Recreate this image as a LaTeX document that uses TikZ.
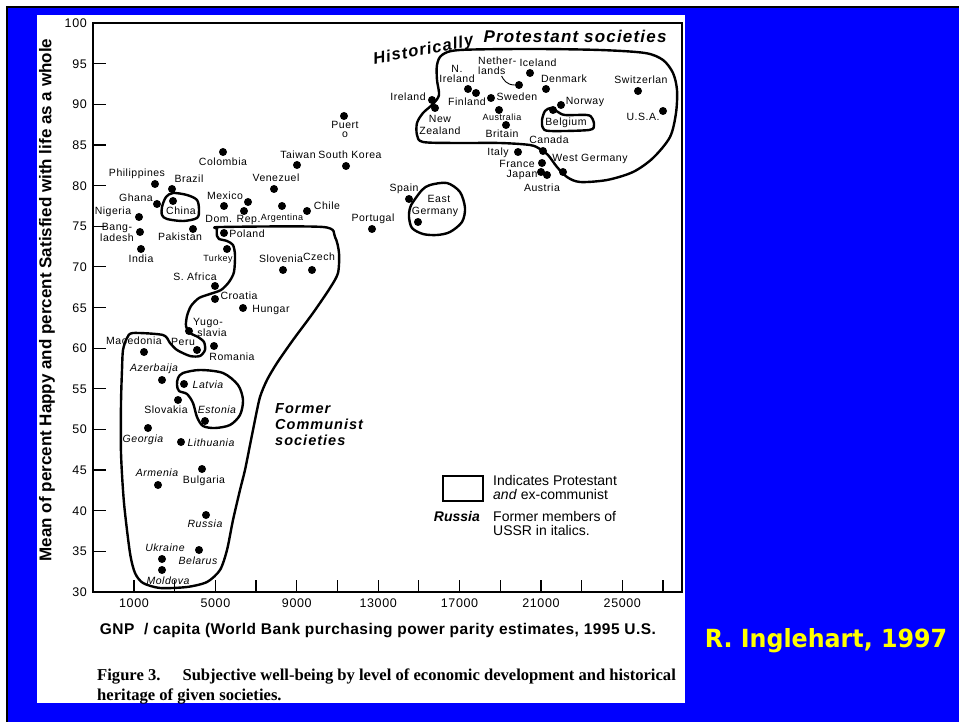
\documentclass[tikz,border=0pt]{standalone}
\usepackage{fontspec}
\usepackage{graphicx}
\setmainfont{Liberation Sans}
\newfontfamily\lblfont{Liberation Sans}[LetterSpace=5]
\newfontfamily\wbfont{Liberation Sans}[LetterSpace=7]
\newfontfamily\xtfont{Liberation Sans}[LetterSpace=3]
\newfontfamily\capfont{Liberation Serif}
\newfontfamily\creditfont{DejaVu Sans}
\definecolor{slideblue}{RGB}{0,0,255}
\definecolor{credityellow}{RGB}{255,255,0}
\begin{document}
\begin{tikzpicture}[x=1pt,y=-1pt,
  dot/.style={circle,fill=black,inner sep=0pt,minimum size=8pt},
  lbl/.style={inner sep=0pt,text height=7.6pt,text depth=0pt,font=\lblfont\fontsize{10.5}{10.5}\selectfont},
  ilbl/.style={inner sep=0pt,text height=7.6pt,text depth=0pt,font=\lblfont\itshape\fontsize{10.5}{10.5}\selectfont},
  slbl/.style={inner sep=0pt,text height=6.5pt,text depth=0pt,font=\lblfont\fontsize{9}{9}\selectfont},
  curvy/.style={draw=black,line width=2.4pt,line join=round},
  axtick/.style={line width=1.2pt},
  ticklbl/.style={inner sep=0pt,text height=9pt,text depth=0pt,font=\lblfont\fontsize{12.5}{12.5}\selectfont},
  leglbl/.style={inner sep=0pt,anchor=west,text height=10pt,text depth=0pt,font=\fontsize{14}{14}\selectfont},
  bigbi/.style={inner sep=0pt,text height=12pt,text depth=0pt,font=\wbfont\bfseries\itshape\fontsize{17}{17}\selectfont},
  fcbi/.style={inner sep=0pt,anchor=west,text height=10.4pt,text depth=0pt,font=\wbfont\bfseries\itshape\fontsize{14.5}{14.5}\selectfont},
  captxt/.style={anchor=west,inner sep=0pt,text height=11pt,text depth=0pt,font=\capfont\bfseries\fontsize{16.6}{16.6}\selectfont}
]
\useasboundingbox (0,0) rectangle (959,722);
% slide background
\fill[white] (0,0) rectangle (959,722);
\fill[slideblue] (7,7) rectangle (959,722);
\draw[black,line width=1.5pt] (7,722) -- (7,7) -- (959,7);
\fill[white] (37,15) rectangle (685,703);

% frame
\draw[line width=2pt] (93,23) rectangle (682,592);
\foreach \v in {35,40,...,95}{
  \pgfmathsetmacro\yy{23+(100-\v)*8.1286}
  \draw[axtick] (93,\yy) -- (106,\yy);
}
\foreach \v in {30,35,...,100}{
  \pgfmathsetmacro\yy{23+(100-\v)*8.1286}
  \node[ticklbl,anchor=east] (yl\v) at (87,\yy) {\v};
}
\foreach \k in {0,...,13}{
  \pgfmathsetmacro\xx{134+\k*40.6924}
  \draw[axtick] (\xx,592) -- (\xx,580);
}
\foreach \k/\v in {0/1000,2/5000,4/9000,6/13000,8/17000,10/21000,12/25000}{
  \pgfmathsetmacro\xx{134+\k*40.6924}
  \node[ticklbl] (xl\v) at (\xx,603) {\v};
}

% axis titles
\node[rotate=90,inner sep=0pt,font=\bfseries\fontsize{17}{17}\selectfont] (ytitle) at (47,300)
  {Mean of percent Happy and percent Satisfied with life as a whole};
\node[inner sep=0pt,text height=11pt,text depth=0pt,font=\xtfont\bfseries\fontsize{15.5}{15.5}\selectfont] (xtitle) at (378,629)
  {GNP\ \ / capita (World Bank purchasing power parity estimates, 1995 U.S.};

% caption
\node[captxt] (cap1) at (97,675)
  {Figure 3.\hspace{22pt}Subjective well-being by level of economic development and historical};
\node[captxt] (cap2) at (97,695)
  {heritage of given societies.};

% credit
\node[inner sep=0pt,text height=19pt,text depth=0pt,text=credityellow,font=\creditfont\bfseries\fontsize{25}{25}\selectfont] (credit) at (826,638)
  {\scalebox{0.95}[1]{R. Inglehart, 1997}};

% loops
\draw[curvy] plot[smooth cycle,tension=0.5] coordinates {
  (442,55) (460,50) (533,49) (600,50) (645,53) (663,60) (673,73) (677,90) (676,113)
  (670,137) (653,158) (633,172) (607,180) (580,182) (567,177) (557,167) (548,155)
  (540,149) (530,145) (500,143) (457,143) (423,142) (417,135) (417,123) (423,113)
  (433,104) (439,95) (437,80) (437,65)};
\draw[curvy] plot[smooth cycle,tension=0.5] coordinates {
  (413,202) (422,190) (430,185) (447,183) (460,192) (465,208) (462,222) (450,232)
  (437,235) (423,234) (412,228) (409,217) (410,208)};
\draw[curvy] plot[smooth cycle,tension=0.5] coordinates {
  (162,207) (166,197) (173,193) (187,195) (197,200) (199,210) (197,218) (183,221)
  (167,219) (162,215)};
\draw[curvy] plot[smooth cycle,tension=0.45] coordinates {
  (217,229) (221,227) (323,227) (335,237) (339,253) (338,273) (330,288) (313,313)
  (293,340) (277,363) (267,380) (260,397) (255,420) (250,445) (245,470) (240,490) (233,520)
  (227,550) (220,570) (207,582) (187,587) (160,588) (143,583) (135,573) (130,553)
  (124,503) (121,453) (121,403) (122,370) (123,350) (127,338) (133,333) (163,335)
  (170,343) (177,350) (190,356) (200,356) (205,350) (204,342) (198,337) (190,333)
  (186,326) (187,316) (191,306) (199,298) (210,294) (221,290) (229,282) (234,272)
  (235,255) (233,245) (227,241) (219,239) (217,236)};
\draw[curvy] plot[smooth cycle,tension=0.5] coordinates {
  (177,385) (178,378) (183,373) (200,370) (223,373) (238,385) (243,400) (240,415)
  (230,425) (215,428) (203,426) (197,417) (193,403) (187,394) (179,391)};
\draw[curvy] plot[smooth cycle,tension=0.5] coordinates {
  (542,120) (545,111) (551,108) (558,112) (565,115) (587,115) (592,118) (594,125)
  (589,130) (550,131) (543,128)};

% dots
\node[dot] (philippines) at (155,184) {};
\node[dot] (brazil) at (172,189) {};
\node[dot] (ghana) at (157,204) {};
\node[dot] (china) at (173,201) {};
\node[dot] (nigeria) at (139,217) {};
\node[dot] (bangladesh) at (140,232) {};
\node[dot] (india) at (141,249) {};
\node[dot] (pakistan) at (193,229) {};
\node[dot] (colombia) at (223,152) {};
\node[dot] (mexico) at (224,206) {};
\node[dot] (domrep) at (244,211) {};
\node[dot] (uruguay) at (248,202) {};
\node[dot] (venezuela) at (274,189) {};
\node[dot] (argentina) at (282,206) {};
\node[dot] (chile) at (307,211) {};
\node[dot] (taiwan) at (297,165) {};
\node[dot] (southkorea) at (346,166) {};
\node[dot] (puerto) at (344,116) {};
\node[dot] (poland) at (224,233) {};
\node[dot] (turkey) at (227,249) {};
\node[dot] (safrica) at (215,286) {};
\node[dot] (croatia) at (215,299) {};
\node[dot] (hungary) at (243,308) {};
\node[dot] (slovenia) at (283,270) {};
\node[dot] (czech) at (312,270) {};
\node[dot] (yugoslavia) at (189,331) {};
\node[dot] (romania) at (214,346) {};
\node[dot] (peru) at (197,350) {};
\node[dot] (macedonia) at (144,352) {};
\node[dot] (azerbaijan) at (162,380) {};
\node[dot] (latvia) at (184,384) {};
\node[dot] (slovakia) at (178,400) {};
\node[dot] (estonia) at (205,421) {};
\node[dot] (georgia) at (148,428) {};
\node[dot] (lithuania) at (181,442) {};
\node[dot] (bulgaria) at (202,469) {};
\node[dot] (armenia) at (158,485) {};
\node[dot] (russia) at (206,515) {};
\node[dot] (belarus) at (199,550) {};
\node[dot] (ukraine) at (162,559) {};
\node[dot] (moldova) at (162,570) {};
\node[dot] (portugal) at (372,229) {};
\node[dot] (spain) at (409,199) {};
\node[dot] (eastgermany) at (418,222) {};
\node[dot] (ireland) at (432,100) {};
\node[dot] (newzealand) at (435,108) {};
\node[dot] (nireland) at (468,89) {};
\node[dot] (finland) at (476,93) {};
\node[dot] (sweden) at (491,98) {};
\node[dot] (netherlands) at (519,85) {};
\node[dot] (iceland) at (530,73) {};
\node[dot] (denmark) at (546,89) {};
\node[dot] (australia) at (499,110) {};
\node[dot] (britain) at (506,125) {};
\node[dot] (norway) at (561,105) {};
\node[dot] (belgium) at (553,110) {};
\node[dot] (switzerland) at (638,91) {};
\node[dot] (usa) at (663,111) {};
\node[dot] (canada) at (543,151) {};
\node[dot] (italy) at (518,152) {};
\node[dot] (france) at (542,163) {};
\node[dot] (japan) at (541,172) {};
\node[dot] (austria) at (547,175) {};
\node[dot] (westgermany) at (563,172) {};

% labels
\node[lbl] (philippinesL) at (137,173) {Philippines};
\node[lbl] (brazilL) at (189,179) {Brazil};
\node[lbl] (ghanaL) at (136,198) {Ghana};
\node[lbl] (chinaL) at (181,211) {China};
\node[lbl] (nigeriaL) at (113,211) {Nigeria};
\node[lbl] (bangladeshL1) at (117,227) {Bang-};
\node[lbl] (bangladeshL2) at (117,238) {ladesh};
\node[lbl] (indiaL) at (141,259) {India};
\node[lbl] (pakistanL) at (180,237) {Pakistan};
\node[lbl] (colombiaL) at (223,162) {Colombia};
\node[lbl] (taiwanL) at (298,155) {Taiwan};
\node[lbl] (southkoreaL) at (350,155) {South Korea};
\node[lbl] (puertoL1) at (345,125) {Puert};
\node[lbl] (puertoL2) at (345,134) {o};
\node[lbl] (venezuelaL) at (276,178) {Venezuel};
\node[lbl] (mexicoL) at (225,196) {Mexico};
\node[lbl] (domrepL) at (233,219) {Dom. Rep.};
\node[slbl] (argentinaL) at (282,217) {Argentina};
\node[lbl] (chileL) at (327,206) {Chile};
\node[lbl] (polandL) at (247,234) {Poland};
\node[slbl] (turkeyL) at (218,258) {Turkey};
\node[lbl] (safricaL) at (195,277) {S. Africa};
\node[lbl] (croatiaL) at (239,296) {Croatia};
\node[lbl] (hungaryL) at (271,309) {Hungar};
\node[lbl] (sloveniaL) at (281,259) {Slovenia};
\node[lbl] (czechL) at (319,257) {Czech};
\node[lbl] (yugoslaviaL1) at (208,322) {Yugo-};
\node[lbl] (yugoslaviaL2) at (212,333) {slavia};
\node[lbl] (romaniaL) at (232,357) {Romania};
\node[lbl] (peruL) at (183,342) {Peru};
\node[lbl] (macedoniaL) at (134,341) {Macedonia};
\node[ilbl] (azerbaijanL) at (154,368) {Azerbaija};
\node[ilbl] (latviaL) at (208,385) {Latvia};
\node[lbl] (slovakiaL) at (166,410) {Slovakia};
\node[ilbl] (estoniaL) at (217,410) {Estonia};
\node[ilbl] (georgiaL) at (143,439) {Georgia};
\node[ilbl] (lithuaniaL) at (211,443) {Lithuania};
\node[ilbl] (armeniaL) at (157,473) {Armenia};
\node[lbl] (bulgariaL) at (204,480) {Bulgaria};
\node[ilbl] (russiaL) at (205,524) {Russia};
\node[ilbl] (ukraineL) at (165,548) {Ukraine};
\node[ilbl] (belarusL) at (198,561) {Belarus};
\node[ilbl] (moldovaL) at (168,581) {Moldova};

\node[lbl] (irelandL) at (408,97) {Ireland};
\node[lbl] (newzealandL1) at (440,119) {New};
\node[lbl] (newzealandL2) at (440,131) {Zealand};
\node[lbl] (nirelandL1) at (457,69) {N.};
\node[lbl] (nirelandL2) at (457,79) {Ireland};
\node[lbl] (finlandL) at (467,102) {Finland};
\node[lbl] (swedenL) at (517,97) {Sweden};
\node[lbl,anchor=west] (netherlandsL1) at (478,61) {Nether-};
\node[lbl,anchor=west] (netherlandsL2) at (478,71) {lands};
\node[lbl] (icelandL) at (538,63) {Iceland};
\node[lbl] (denmarkL) at (564,79) {Denmark};
\node[slbl] (australiaL) at (502,117) {Australia};
\node[lbl] (britainL) at (502,134) {Britain};
\node[lbl] (norwayL) at (585,101) {Norway};
\node[lbl] (belgiumL) at (566,122) {Belgium};
\node[lbl] (switzerlandL) at (641,80) {Switzerlan};
\node[lbl] (usaL) at (643,117) {U.S.A.};
\node[lbl] (canadaL) at (549,140) {Canada};
\node[lbl] (italyL) at (498,152) {Italy};
\node[lbl] (franceL) at (517,164) {France};
\node[lbl] (japanL) at (522,174) {Japan};
\node[lbl] (austriaL) at (542,188) {Austria};
\node[lbl] (westgermanyL) at (590,158) {West Germany};
\node[lbl] (spainL) at (404,188) {Spain};
\node[lbl] (eastgermanyL1) at (439,199) {East};
\node[lbl] (eastgermanyL2) at (435,211) {Germany};
\node[lbl] (portugalL) at (373,218) {Portugal};

% Netherlands hook
\draw[line width=0.9pt] ([xshift=-4pt,yshift=-1pt]netherlandsL2.south east) .. controls +(2,4) and +(-8,0) .. (netherlands.west);

% group titles
\node[bigbi,rotate=11,font=\wbfont\bfseries\itshape\fontsize{16.5}{16.5}\selectfont] (histL) at (423,49) {Historically};
\node[bigbi] (protL) at (575,37) {Protestant societies};
\node[fcbi] (fcL1) at (275,408) {Former};
\node[fcbi] (fcL2) at (275,424) {Communist};
\node[fcbi] (fcL3) at (275,440) {societies};

% legend
\node[draw,line width=2pt,minimum width=40pt,minimum height=25pt,inner sep=0pt] (legendbox) at (463,488.5) {};
\node[leglbl] (leg1) at (493,480.5) {Indicates Protestant};
\node[leglbl] (leg2) at (493,494.5) {\textit{and} ex-communist};
\node[leglbl,anchor=east,font=\bfseries\itshape\fontsize{14}{14}\selectfont] (legR) at (480,516.5) {Russia};
\node[leglbl] (leg3) at (493,516.5) {Former members of};
\node[leglbl] (leg4) at (493,530.5) {USSR in italics.};
\end{tikzpicture}
\end{document}
